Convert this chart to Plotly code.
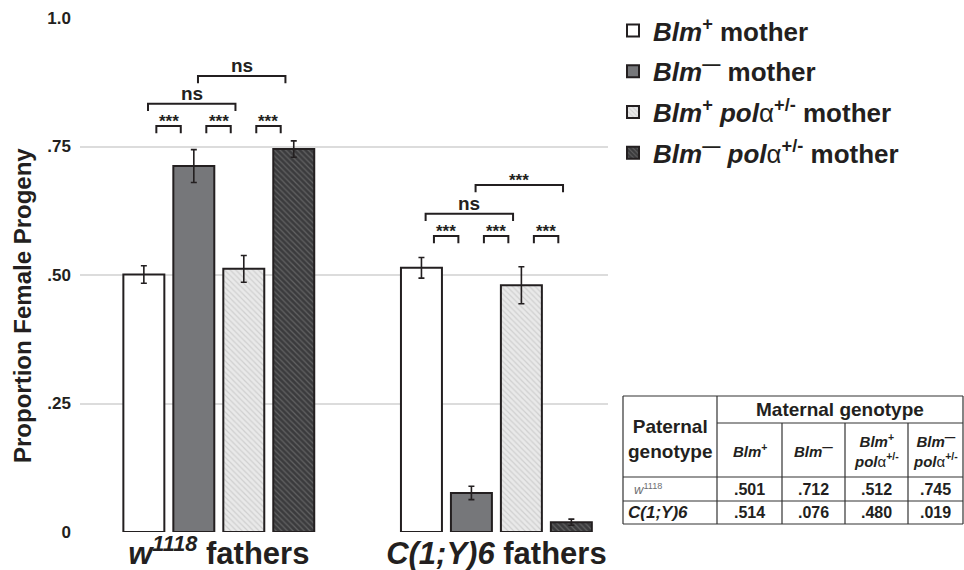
import plotly.graph_objects as go

# ---------------- data ----------------
father_groups = ["w1118", "C(1;Y)6"]
tick_labels = ["<b><i>w<sup>1118</sup></i> fathers</b>", "<b><i>C(1;Y)6</i> fathers</b>"]
series_names = [
    "<b><i>Blm</i><sup>+</sup> mother</b>",
    "<b><i>Blm</i><sup>—</sup> mother</b>",
    "<b><i>Blm</i><sup>+</sup> <i>pol</i><span style='font-weight:normal'>α</span><sup>+/-</sup> mother</b>",
    "<b><i>Blm</i><sup>—</sup> <i>pol</i><span style='font-weight:normal'>α</span><sup>+/-</sup> mother</b>",
]
values_w1118 = [0.501, 0.712, 0.512, 0.745]
values_c1y6 = [0.514, 0.076, 0.480, 0.019]
errors_w1118 = [0.017, 0.032, 0.026, 0.016]
errors_c1y6 = [0.020, 0.013, 0.036, 0.006]
y_tick_vals = [0, 0.25, 0.5, 0.75, 1.0]
y_tick_text = ["0", ".25", ".50", ".75", "1.0"]
y_title = "Proportion Female Progeny"

# significance comparisons: (group index, bar a, bar b, level, label)
comparisons = [
    (0, 0, 1, 0.790, "***"), (0, 1, 2, 0.790, "***"), (0, 2, 3, 0.790, "***"),
    (0, 0, 2, 0.833, "ns"), (0, 1, 3, 0.887, "ns"),
    (1, 0, 1, 0.576, "***"), (1, 1, 2, 0.576, "***"), (1, 2, 3, 0.576, "***"),
    (1, 0, 2, 0.619, "ns"), (1, 1, 3, 0.675, "***"),
]

# table
table_cols = [
    "<b><i>Blm</i><sup>+</sup></b>",
    "<b><i>Blm</i><sup>—</sup></b>",
    "<b><i>Blm</i><sup>+</sup><br><i>pol</i><span style='font-weight:normal'>α</span><sup>+/-</sup></b>",
    "<b><i>Blm</i><sup>—</sup><br><i>pol</i><span style='font-weight:normal'>α</span><sup>+/-</sup></b>",
]
table_row_labels = ["<i>w</i><sup>1118</sup>", "<b><i>C(1;Y)6</i></b>"]
table_values = [[".501", ".712", ".512", ".745"], [".514", ".076", ".480", ".019"]]

# ---------------- styles ----------------
INK = "#231f20"
FONT = "Liberation Sans, Arial, sans-serif"
styles = [
    dict(color="white"),
    dict(color="#76777a"),
    dict(color="#e9e9e9", pattern=dict(shape="\\", fgcolor="#b5b5b5", bgcolor="#e9e9e9", size=4, solidity=0.3)),
    dict(color="#3b3b3d", pattern=dict(shape="\\", fgcolor="#8a8a8a", bgcolor="#3b3b3d", size=4, solidity=0.3)),
]

fig = go.Figure()
xpos = [0, 1]
for i in range(4):
    m = dict(styles[i])
    m["line"] = dict(color=INK, width=2)
    fig.add_trace(go.Bar(
        x=xpos, y=[values_w1118[i], values_c1y6[i]],
        name=series_names[i], marker=m, legendgroup=f"g{i}",
        error_y=dict(type="data", array=[errors_w1118[i], errors_c1y6[i]],
                     color=INK, thickness=1.6, width=3),
    ))

BARGAP = 0.28
slot = (1 - BARGAP) / 4

def center(g, b):
    return xpos[g] + (b - 1.5) * slot

shapes = []
annotations = []
tick = 0.014
for g, a, b, lvl, lab in comparisons:
    if b - a == 1:
        x0, x1 = center(g, a) + 0.045, center(g, b) - 0.047
    else:
        x0, x1 = center(g, a) + 0.015, center(g, b) - 0.03
    shapes.append(dict(type="path", xref="x", yref="y",
                       path=f"M {x0} {lvl - tick} L {x0} {lvl} L {x1} {lvl} L {x1} {lvl - tick}",
                       line=dict(color=INK, width=2)))
    if lab == "***":
        annotations.append(dict(x=(x0 + x1) / 2, y=lvl, xref="x", yref="y", text="<b>***</b>",
                                showarrow=False, yanchor="bottom", yshift=-7,
                                font=dict(size=17, color=INK, family=FONT)))
    else:
        annotations.append(dict(x=(x0 + x1) / 2, y=lvl, xref="x", yref="y", text="<b>ns</b>",
                                showarrow=False, yanchor="bottom", yshift=-2,
                                font=dict(size=19, color=INK, family=FONT)))

# ---- paper-coordinate helpers ----
L, R, T, B = 80, 608, 18, 532
def px(x):
    return (x - L) / (R - L)
def py(y):
    return (B - y) / (B - T)

# y-axis title (placed like the reference, below centre)
annotations.append(dict(x=px(22), y=py(306), xref="paper", yref="paper",
                        text=f"<b>{y_title}</b>", textangle=-90, showarrow=False,
                        xanchor="center", yanchor="middle",
                        font=dict(size=24, color=INK, family=FONT)))

# ---- table drawn in paper coordinates ----
tl, tr, tt, tb = 623, 963, 396, 524
c_lines = [717, 782, 845, 908]
r_head, r1, r2 = 423, 477, 501
tline = dict(color="#333333", width=1.2)
def seg(x0, y0, x1, y1):
    shapes.append(dict(type="line", xref="paper", yref="paper",
                       x0=px(x0), y0=py(y0), x1=px(x1), y1=py(y1), line=tline))
seg(tl, tt, tr, tt); seg(tl, tb, tr, tb); seg(tl, tt, tl, tb); seg(tr, tt, tr, tb)
seg(c_lines[0], tt, c_lines[0], tb)
for cx in c_lines[1:]:
    seg(cx, r_head, cx, tb)
seg(c_lines[0], r_head, tr, r_head)
seg(tl, r1, tr, r1)
seg(tl, r2, tr, r2)

def txt(x, y, s, size, color="#231f20"):
    annotations.append(dict(x=px(x), y=py(y), xref="paper", yref="paper", text=s,
                            showarrow=False, xanchor="center", yanchor="middle",
                            font=dict(size=size, color=color, family=FONT)))

txt((c_lines[0] + tr) / 2, (tt + r_head) / 2, "<b>Maternal genotype</b>", 19)
txt((tl + c_lines[0]) / 2, (tt + r1) / 2 + 2, "<b>Paternal<br>genotype</b>", 19)
col_edges = c_lines + [tr]
for j in range(4):
    cx = (col_edges[j] + col_edges[j + 1]) / 2
    txt(cx, (r_head + r1) / 2, table_cols[j], 15)
    txt(cx, (r1 + r2) / 2, f"<b>{table_values[0][j]}</b>", 16)
    txt(cx, (r2 + tb) / 2, f"<b>{table_values[1][j]}</b>", 16)
txt((tl + c_lines[0]) / 2 - 22, (r1 + r2) / 2, table_row_labels[0], 13, "#6d6e71")
txt((tl + c_lines[0]) / 2 - 12, (r2 + tb) / 2, table_row_labels[1], 17)

fig.update_layout(
    width=964, height=570,
    margin=dict(l=L, r=964 - R, t=T, b=570 - B, autoexpand=False),
    paper_bgcolor="white", plot_bgcolor="white",
    barmode="group", bargap=BARGAP, bargroupgap=0.18,
    font=dict(family=FONT, color=INK),
    showlegend=True,
    legend=dict(x=px(613), y=py(7), xanchor="left", yanchor="top",
                font=dict(size=26, color=INK, family=FONT),
                tracegroupgap=4, bgcolor="rgba(0,0,0,0)"),
    xaxis=dict(range=[-0.5, 1.402], tickvals=xpos, ticktext=tick_labels,
               tickfont=dict(size=31, color=INK, family=FONT),
               showgrid=False, zeroline=False, showline=False, ticks="",
               automargin=False),
    yaxis=dict(range=[0, 1.0], tickvals=y_tick_vals, ticktext=[f"<b>{t}</b>" for t in y_tick_text],
               tickfont=dict(size=17, color=INK, family=FONT),
               showgrid=True, gridcolor="#dcdcdc", gridwidth=1.5, zeroline=False,
               showline=False, ticks="", ticklabelstandoff=8, automargin=False),
    shapes=shapes, annotations=annotations,
)

fig.write_html("out.html", config={"displayModeBar": False},
               post_script="document.body.style.margin='0px';")
